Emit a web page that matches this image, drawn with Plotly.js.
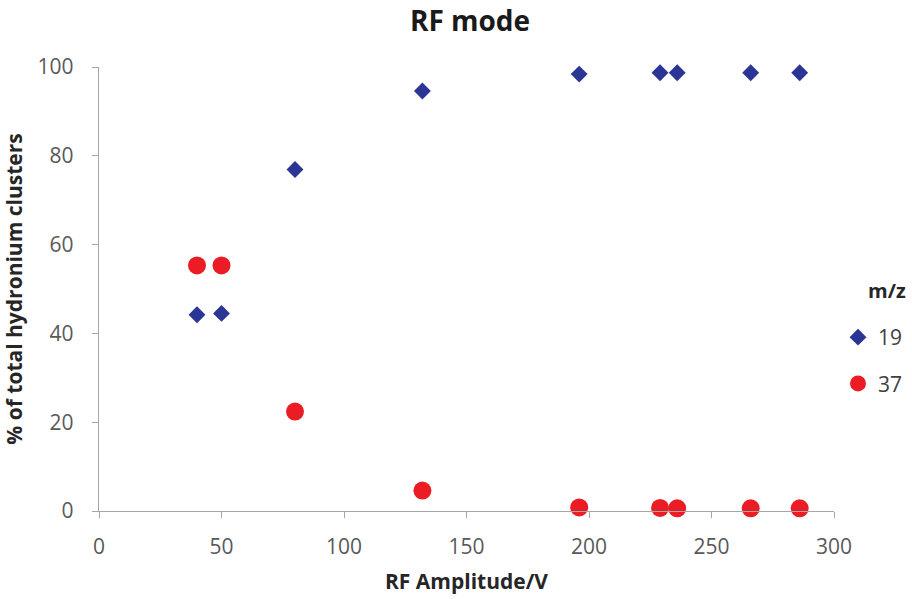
<!DOCTYPE html>
<html>
<head>
<meta charset="utf-8">
<script src="https://cdn.plot.ly/plotly-3.0.1.min.js"></script>
<style>html,body{margin:0;padding:0;background:#fff;}#chart{width:912px;height:599px;}</style>
</head>
<body>
<div id="chart"></div>
<script>
const rfAmplitude = [40, 50, 80, 132, 196, 229, 236, 266, 286];
const mz19 = [44.2, 44.5, 76.9, 94.6, 98.4, 98.7, 98.7, 98.7, 98.7];
const mz37 = [55.3, 55.3, 22.4, 4.6, 0.8, 0.7, 0.6, 0.6, 0.6];
const seriesNames = ['19', '37'];
const legendTitle = 'm/z';
const xTicks = [0, 50, 100, 150, 200, 250, 300];
const yTicks = [0, 20, 40, 60, 80, 100];

const FONT = 'Open Sans, Noto Sans, sans-serif';
const traces = [
  {x: rfAmplitude, y: mz19, name: seriesNames[0], type: 'scatter', mode: 'markers',
   legendgroup: 'a', cliponaxis: false,
   marker: {symbol: 'diamond', size: 13, color: '#2b3596'}},
  {x: rfAmplitude, y: mz37, name: seriesNames[1], type: 'scatter', mode: 'markers',
   legendgroup: 'b', cliponaxis: false,
   marker: {symbol: 'circle', size: 18, color: '#ec1c24'}}
];

const layout = {
  width: 912, height: 599,
  margin: {l: 99, r: 78, t: 67, b: 88},
  paper_bgcolor: '#ffffff', plot_bgcolor: '#ffffff',
  font: {family: FONT, color: '#595959', size: 22},
  title: {text: '<b>RF mode</b>', font: {family: FONT, size: 28, color: '#1a1a1a'},
          x: 470 / 912, xanchor: 'center', xref: 'container', yref: 'container', y: 1 - 21 / 599, yanchor: 'middle'},
  xaxis: {
    range: [0, 300], tickvals: xTicks, ticktext: xTicks.map(String),
    showgrid: false, zeroline: false, showline: true, linecolor: '#a6a6a6', linewidth: 1.3,
    ticks: 'outside', ticklen: 6, tickcolor: '#a6a6a6', ticklabelstandoff: 10,
    tickfont: {family: FONT, size: 21, color: '#595959'},
    title: {text: '<b>RF Amplitude/V</b>', font: {family: FONT, size: 21, color: '#262626'}, standoff: 15}
  },
  yaxis: {
    range: [0, 100], tickvals: yTicks, ticktext: yTicks.map(String),
    showgrid: false, zeroline: false, showline: true, linecolor: '#a6a6a6', linewidth: 1.3,
    ticks: 'outside', ticklen: 6, tickcolor: '#a6a6a6', ticklabelstandoff: 14,
    tickfont: {family: FONT, size: 21, color: '#595959'},
    title: {text: '<b>% of total hydronium clusters</b>', font: {family: FONT, size: 21, color: '#262626'}, standoff: 12}
  },
  legend: {
    xref: 'container', yref: 'container',
    x: 838 / 912, xanchor: 'left', y: 1 - 317 / 599, yanchor: 'top',
    font: {family: FONT, size: 21, color: '#404040'},
    tracegroupgap: 16, bgcolor: 'rgba(0,0,0,0)'
  },
  annotations: [{
    text: '<b>' + legendTitle + '</b>', xref: 'paper', yref: 'paper',
    x: (866 - 99) / 735, y: (511 - 290) / 444, xanchor: 'left', yanchor: 'middle',
    showarrow: false, font: {family: FONT, size: 20, color: '#262626'}
  }],
  showlegend: true
};

Plotly.newPlot('chart', traces, layout, {displayModeBar: false, staticPlot: true});
</script>
</body>
</html>
